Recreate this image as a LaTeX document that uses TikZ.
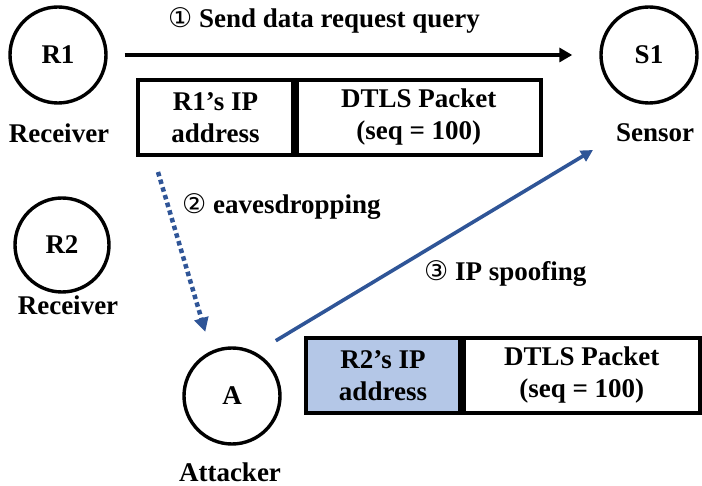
\documentclass[tikz,border=0pt]{standalone}
\usepackage{fontspec}
\setmainfont{Liberation Serif}
\newfontfamily\circfont{DejaVu Sans}
\usetikzlibrary{arrows.meta}
\definecolor{attackblue}{RGB}{47,85,151}
\definecolor{addrblue}{RGB}{180,199,231}

\begin{document}
\begin{tikzpicture}[x=1pt,y=-1pt,
  font=\fontsize{27}{32}\selectfont\bfseries,
  host/.style={draw, circle, line width=3.4pt, minimum size=96pt, inner sep=0pt},
  cell/.style={draw, line width=3.8pt, minimum height=75pt, align=center, inner sep=0pt},
  steplabel/.style={anchor=west, inner sep=0pt}]
\useasboundingbox (0,0) rectangle (702,486);

% hosts
\node[host] (r1) at (58,55) {R1};
\node (r1role) at (59,133) {Receiver};
\node[host] (s1) at (649,55) {S1};
\node (s1role) at (655,133) {Sensor};
\node[host, minimum size=94pt] (r2) at (62,245) {R2};
\node (r2role) at (68,305) {Receiver};
\node[host] (a) at (232,396) {A};
\node (arole) at (230,472) {Attacker};

% packets
\node[cell, minimum width=155pt] (addr1) at (215.5,117.5) {R1’s IP\\address};
\node[cell, minimum width=244pt, anchor=west] (pkt1) at (addr1.east) {DTLS Packet\\(seq = 100)};
\node[cell, minimum width=154pt, fill=addrblue] (addr2) at (383,375.5) {R2’s IP\\address};
\node[cell, minimum width=236pt, anchor=west] (pkt2) at (addr2.east) {DTLS Packet\\(seq = 100)};

% steps
\node (query) at (324,20) {{\circfont\mdseries ①} Send data request query};
\node[steplabel] (eaves) at (182,207) {{\circfont\mdseries ②} eavesdropping};
\node[steplabel] (spoofing) at (424,274) {{\circfont\mdseries ③} IP spoofing};

\coordinate (tap) at (158,172);
\coordinate (spoof) at (593,150);

\draw[line width=3.6pt, -{Triangle[length=13pt,width=14pt]}, shorten <=17pt, shorten >=27pt] (r1.east) -- (s1.west);
\draw[attackblue, line width=4.5pt, dash pattern=on 4.5pt off 3.5pt, -{Triangle[length=14pt,width=14pt]}, shorten >=20pt] (tap) -- (a.115);
\draw[attackblue, line width=3.6pt, -{Triangle[length=12pt,width=12pt]}, shorten <=23pt] (a.61) -- (spoof);
\end{tikzpicture}
\end{document}
